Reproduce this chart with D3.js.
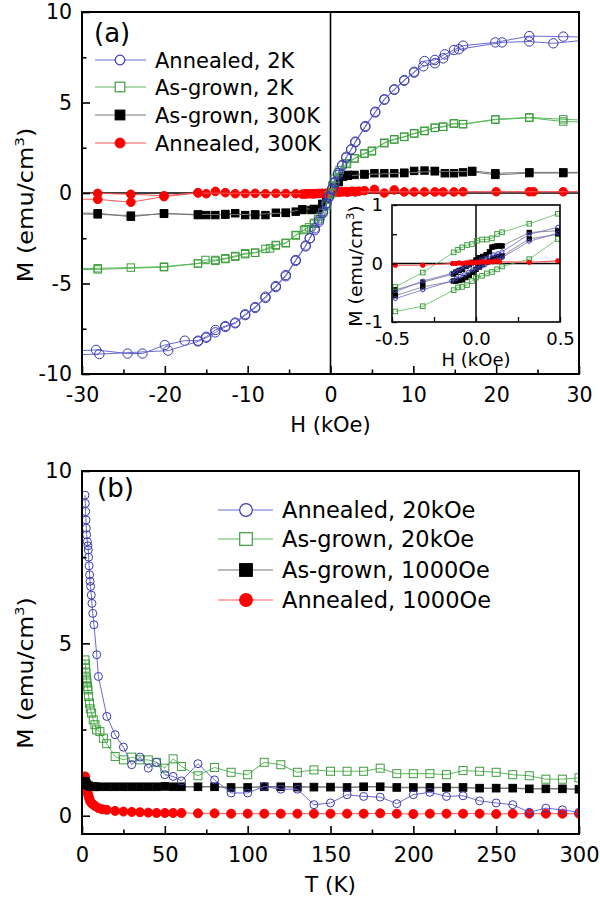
<!DOCTYPE html>
<html><head><meta charset="utf-8">
<script src="https://cdn.jsdelivr.net/npm/d3@7"></script>
<style>body{margin:0;background:#fff}svg{display:block}text{font-family:"DejaVu Sans",Verdana,sans-serif;fill:#000}</style>
</head><body><svg id="c" width="600" height="899"></svg>
<script>
// ---------------- Panel (a): M vs H ----------------
const ann2K_downH = [32, 28.1, 24.0, 19.9, 16.0, 14.9, 13.8, 12.6, 11.35, 10.1, 8.9, 7.7, 6.5, 5.4, 4.2, 3.0, 2.5, 1.9, 1.4, 0.9, 0.5, 0.2, -0.2, -0.5, -0.9, -1.4, -1.9, -2.5, -3.0, -4.2, -5.4, -6.6, -7.85, -9.1, -10.3, -11.5, -12.7, -13.9, -15.0, -16.0, -17.6, -20.0, -22.7, -24.5, -28.3, -32];
const ann2K_downM = [8.6, 8.64, 8.67, 8.32, 8.14, 7.9, 7.66, 7.35, 7.29, 6.65, 6.24, 5.73, 5.18, 4.49, 3.70, 2.84, 2.41, 2.0, 1.55, 1.09, 0.6, 0.25, -0.2, -0.55, -1.0, -1.5, -1.95, -2.5, -2.9, -3.7, -4.53, -5.14, -5.73, -6.3, -6.7, -7.16, -7.35, -7.57, -7.94, -8.16, -8.16, -8.4, -8.87, -8.87, -8.67, -8.75];
const ann2K_upH = [-32, -27.9, -19.6, -16.0, -15.0, -13.9, -12.7, -11.5, -10.3, -9.1, -7.85, -6.6, -5.4, -4.2, -3.0, -2.5, -1.9, -1.4, -0.9, -0.5, -0.2, 0.2, 0.5, 0.9, 1.4, 1.9, 2.5, 3.0, 4.2, 5.4, 6.5, 7.7, 8.9, 10.1, 11.2, 12.6, 13.6, 15.5, 20.7, 24.0, 26.9, 32];
const ann2K_upM = [-8.95, -8.9, -8.71, -8.2, -8.0, -7.7, -7.4, -7.2, -6.75, -6.35, -5.8, -5.2, -4.6, -3.75, -2.95, -2.5, -2.05, -1.6, -1.1, -0.6, -0.25, 0.2, 0.55, 1.0, 1.5, 1.95, 2.4, 2.8, 3.65, 4.45, 5.15, 5.7, 6.2, 6.7, 7.0, 7.17, 7.44, 7.94, 8.32, 8.37, 8.27, 8.5];

const asg2K_downH = [32, 28.1, 24.0, 19.9, 16.0, 14.9, 13.6, 12.6, 11.35, 10.1, 8.9, 7.7, 6.5, 5.0, 4.1, 2.9, 1.9, 1.1, 0.5, 0.2, -0.2, -0.5, -1.0, -1.5, -2.0, -2.6, -3.2, -4.2, -5.4, -6.6, -7.85, -9.1, -10.3, -11.5, -12.7, -13.9, -15.1, -16.0, -20.1, -24.1, -28.1, -32];
const asg2K_downM = [4.0, 4.07, 4.18, 4.07, 3.81, 3.85, 3.66, 3.61, 3.44, 3.3, 3.11, 2.97, 2.78, 2.34, 2.19, 1.92, 1.64, 1.27, 0.8, 0.4, -0.1, -0.6, -1.1, -1.45, -1.7, -1.9, -2.05, -2.32, -2.78, -2.87, -3.09, -3.3, -3.33, -3.48, -3.61, -3.7, -3.7, -3.89, -4.07, -4.12, -4.16, -4.2];
const asg2K_upH = [-32, -28.1, -20.1, -16.0, -13.9, -12.7, -11.5, -10.3, -9.1, -7.3, -6.6, -5.4, -4.2, -3.0, -2.0, -1.2, -0.5, 0.2, 0.5, 1.0, 2.0, 2.9, 4.1, 5.0, 6.5, 7.7, 8.9, 10.1, 11.35, 12.6, 13.6, 14.9, 16.0, 19.9, 24.0, 28.1, 32];
const asg2K_upM = [-4.25, -4.22, -4.1, -3.9, -3.75, -3.65, -3.52, -3.38, -3.3, -3.06, -2.9, -2.75, -2.35, -2.0, -1.65, -1.3, -0.7, 0.0, 0.6, 1.15, 1.6, 1.9, 2.17, 2.3, 2.75, 2.95, 3.1, 3.28, 3.42, 3.6, 3.66, 3.83, 3.8, 4.05, 4.15, 3.95, 3.9];

const asg300_downH = [32, 28.1, 24.0, 19.9, 17.1, 16.0, 14.9, 13.8, 12.6, 11.35, 10.1, 8.9, 7.7, 6.5, 5.3, 4.1, 2.9, 2.1, 1.5, 1.0, 0.5, 0, -0.5, -1.0, -1.5, -2.3, -3.4, -4.2, -5.4, -6.6, -7.85, -9.1, -10.3, -11.5, -12.7, -13.9, -15.0, -16.0, -20.1, -24.1, -28.1, -32];
const asg300_downM = [1.14, 1.14, 1.14, 1.09, 1.22, 1.14, 1.09, 1.09, 1.22, 1.24, 1.22, 1.12, 1.09, 1.09, 1.09, 1.05, 1.0, 1.0, 0.9, 0.6, 0.3, 0.0, -0.35, -0.75, -0.92, -0.94, -0.94, -1.03, -1.09, -1.09, -1.22, -1.22, -1.22, -1.12, -1.16, -1.22, -1.22, -1.22, -1.12, -1.31, -1.12, -1.1];
const asg300_upH = [-32, -28.1, -24.1, -20.1, -16.0, -12.7, -9.1, -5.4, -3.4, -2.0, -1.0, 0, 1.0, 1.5, 2.1, 4.1, 8.9, 12.6, 17.1, 19.9, 24.0, 28.1, 32];
const asg300_upM = [-1.15, -1.18, -1.25, -1.15, -1.18, -1.2, -1.18, -1.1, -0.9, -0.88, -0.6, 0.0, 0.7, 0.9, 0.95, 1.02, 1.1, 1.2, 1.18, 1.0, 1.1, 1.1, 1.12];

const ann300_downH = [32, 28.1, 24.5, 24.0, 20.0, 16.0, 14.9, 13.6, 12.6, 11.35, 10.1, 8.9, 7.7, 6.5, 5.3, 4.1, 3.4, 3.0, 2.6, 2.2, 1.8, 1.4, 1.0, 0.6, 0.2, -0.2, -0.6, -1.0, -1.4, -1.8, -2.2, -2.6, -3.0, -3.4, -4.2, -5.4, -6.6, -7.85, -9.1, -10.3, -11.5, -12.7, -13.9, -15.0, -16.0, -20.1, -24.1, -28.1, -32];
const ann300_downM = [0.07, 0.07, 0.07, 0.07, 0.07, 0.07, 0.06, 0.06, 0.06, 0.06, 0.06, 0.06, 0.17, 0.0, 0.2, 0.13, 0.1, 0.08, 0.1, 0.07, 0.08, 0.06, 0.06, 0.04, 0.02, 0.0, -0.02, -0.03, -0.02, -0.04, -0.05, -0.04, -0.05, -0.06, -0.04, -0.03, -0.02, -0.04, -0.02, -0.03, -0.04, 0.02, 0.09, -0.04, 0.02, -0.15, -0.07, -0.02, 0.0];
const ann300_upH = [-32, -28.1, -24.1, -20.1, -16.0, -3.0, -2.0, -1.0, 0.0, 1.0, 2.0, 3.0, 32];
const ann300_upM = [-0.33, -0.35, -0.51, -0.2, 0.0, -0.05, -0.04, -0.02, 0.01, 0.04, 0.05, 0.06, 0.07];

const legendA = ["Annealed, 2K", "As-grown, 2K", "As-grown, 300K", "Annealed, 300K"];
const xTicksA = [-30, -20, -10, 0, 10, 20, 30];
const xMinorA = [-25, -15, -5, 5, 15, 25];
const yTicksA = [-10, -5, 0, 5, 10];
const yMinorA = [-7.5, -2.5, 2.5, 7.5];

// ---------------- Inset (low-field loops) ----------------
const insGreen_upH = [0.487, 0.317, 0.155, 0.125, 0.095, 0.065, 0.036, 0.006, -0.024, -0.053, -0.083, -0.107, -0.133, -0.317, -0.48];
const insGreen_upM = [0.85, 0.68, 0.534, 0.505, 0.43, 0.41, 0.41, 0.39, 0.333, 0.316, 0.276, 0.235, 0.19, -0.155, -0.40];
const insGreen_loH = [-0.48, -0.317, -0.133, -0.107, -0.083, -0.053, -0.024, 0.0, 0.036, 0.065, 0.095, 0.125, 0.155, 0.317, 0.487];
const insGreen_loM = [-0.82, -0.73, -0.455, -0.41, -0.40, -0.37, -0.30, -0.24, -0.21, -0.17, -0.145, -0.10, -0.05, 0.074, 0.42];
const insBlue_upH = [0.487, 0.317, 0.155, 0.13, 0.105, 0.08, 0.055, 0.03, 0.005, -0.02, -0.045, -0.07, -0.095, -0.12, -0.145, -0.317, -0.48];
const insBlue_upM = [0.62, 0.5, 0.2, 0.17, 0.15, 0.12, 0.09, 0.06, 0.03, 0.0, -0.03, -0.06, -0.1, -0.13, -0.17, -0.3, -0.48];
const insBlue_loH = [-0.48, -0.317, -0.145, -0.12, -0.095, -0.07, -0.045, -0.02, 0.005, 0.03, 0.055, 0.08, 0.105, 0.13, 0.155, 0.317, 0.487];
const insBlue_loM = [-0.6, -0.45, -0.3, -0.26, -0.22, -0.19, -0.15, -0.11, -0.08, -0.05, -0.02, 0.02, 0.05, 0.08, 0.1, 0.38, 0.52];
const insBlack_upH = [0.487, 0.317, 0.155, 0.14, 0.125, 0.11, 0.095, 0.08, 0.06, 0.04, 0.02, 0.0, -0.02, -0.04, -0.06, -0.08, -0.1, -0.12, -0.133, -0.317, -0.48];
const insBlack_upM = [0.56, 0.53, 0.3, 0.3, 0.3, 0.29, 0.28, 0.2, 0.15, 0.12, 0.1, 0.06, 0.02, -0.02, -0.05, -0.1, -0.12, -0.15, -0.18, -0.32, -0.45];
const insBlack_loH = [-0.48, -0.317, -0.133, -0.12, -0.1, -0.08, -0.06, -0.04, -0.02, 0.0, 0.02, 0.04, 0.06, 0.08, 0.1, 0.12, 0.14, 0.155, 0.317, 0.487];
const insBlack_loM = [-0.55, -0.4, -0.3, -0.3, -0.29, -0.28, -0.24, -0.2, -0.15, -0.1, -0.06, -0.02, 0.02, 0.05, 0.08, 0.1, 0.12, 0.13, 0.42, 0.5];
const insRedH = [-0.48, -0.317, -0.14, -0.12, -0.1, -0.08, -0.06, -0.04, -0.02, 0.0, 0.02, 0.04, 0.06, 0.08, 0.1, 0.12, 0.14, 0.317, 0.487];
const insRedM = [-0.03, -0.03, 0.0, 0.0, 0.01, 0.0, 0.01, 0.02, 0.01, 0.02, 0.02, 0.03, 0.02, 0.03, 0.03, 0.04, 0.03, 0.02, 0.045];
const xTicksI = [-0.5, 0, 0.5];
const xMinorI = [-0.25, 0.25];
const yTicksI = [-1, 0, 1];
const yMinorI = [-0.5, 0.5];

// ---------------- Panel (b): M vs T ----------------
const ann20k_T = [1.8, 2.0, 2.2, 2.4, 2.6, 2.8, 3.2, 3.6, 3.8, 4.0, 4.3, 4.6, 4.9, 5.2, 5.6, 6.0, 6.5, 7.2, 8.9, 9.9, 15, 20, 25, 30, 35, 40, 45, 50, 55, 60, 70, 80, 90, 100, 110, 120, 130, 140, 150, 160, 170, 180, 190, 200, 210, 220, 230, 240, 250, 260, 270, 280, 290, 300];
const ann20k_M = [9.3, 9.06, 8.82, 8.58, 8.34, 8.15, 7.95, 7.83, 7.71, 7.5, 7.25, 6.99, 6.8, 6.65, 6.4, 6.16, 5.87, 5.54, 4.67, 4.04, 2.88, 2.35, 1.99, 1.48, 1.70, 1.38, 1.55, 1.19, 1.14, 1.01, 1.51, 1.04, 0.66, 0.66, 0.85, 0.77, 0.77, 0.32, 0.37, 0.61, 0.56, 0.54, 0.35, 0.61, 0.68, 0.56, 0.58, 0.43, 0.37, 0.32, 0.1, 0.22, 0.17, 0.1];
const asg20k_T = [1.8, 2.0, 2.2, 2.4, 2.6, 2.8, 3.0, 3.3, 3.6, 4.0, 4.5, 5.0, 5.8, 6.8, 7.8, 8.8, 10.8, 12.9, 14.9, 20, 25, 30, 35, 40, 45, 50, 55, 60, 70, 80, 90, 100, 110, 120, 130, 140, 150, 160, 170, 180, 190, 200, 210, 220, 230, 240, 250, 260, 270, 280, 290, 300];
const asg20k_M = [4.52, 4.40, 4.28, 4.14, 4.0, 3.94, 3.85, 3.75, 3.65, 3.46, 3.27, 3.1, 2.98, 2.78, 2.64, 2.49, 2.44, 2.25, 2.09, 1.72, 1.62, 1.70, 1.62, 1.62, 1.55, 1.38, 1.65, 1.43, 1.16, 1.40, 1.26, 1.19, 1.55, 1.48, 1.26, 1.33, 1.29, 1.29, 1.29, 1.38, 1.22, 1.22, 1.22, 1.19, 1.31, 1.29, 1.26, 1.19, 1.16, 1.06, 1.06, 1.1];
const asg100_T = [1.8, 2.0, 2.5, 3.0, 4.0, 5.0, 6.0, 7.0, 8.0, 10, 15, 20, 25, 30, 35, 40, 45, 50, 55, 60, 70, 80, 90, 100, 110, 120, 130, 140, 150, 160, 170, 180, 190, 200, 210, 220, 230, 240, 250, 260, 270, 280, 290, 300];
const asg100_M = [1.0, 0.97, 0.93, 0.9, 0.87, 0.85, 0.85, 0.84, 0.84, 0.84, 0.84, 0.84, 0.84, 0.84, 0.84, 0.84, 0.84, 0.85, 0.84, 0.84, 0.84, 0.84, 0.82, 0.82, 0.84, 0.84, 0.83, 0.83, 0.83, 0.82, 0.84, 0.84, 0.82, 0.82, 0.82, 0.82, 0.82, 0.8, 0.8, 0.8, 0.78, 0.78, 0.78, 0.77];
const ann100_T = [1.8, 2.0, 2.3, 2.6, 3.0, 3.5, 4.0, 4.5, 5.0, 6.0, 7.0, 8.0, 10, 12, 15, 20, 25, 30, 35, 40, 45, 50, 55, 60, 70, 80, 90, 100, 110, 120, 130, 140, 150, 160, 170, 180, 190, 200, 210, 220, 230, 240, 250, 260, 270, 280, 290, 300];
const ann100_M = [1.14, 1.05, 0.94, 0.85, 0.75, 0.65, 0.56, 0.48, 0.41, 0.35, 0.32, 0.28, 0.22, 0.19, 0.17, 0.14, 0.12, 0.11, 0.1, 0.09, 0.08, 0.08, 0.08, 0.08, 0.07, 0.07, 0.06, 0.06, 0.06, 0.06, 0.06, 0.06, 0.06, 0.06, 0.06, 0.07, 0.06, 0.05, 0.06, 0.06, 0.06, 0.06, 0.05, 0.06, 0.06, 0.06, 0.06, 0.06];
const legendB = ["Annealed, 20kOe", "As-grown, 20kOe", "As-grown, 1000Oe", "Annealed, 1000Oe"];
const xTicksB = [0, 50, 100, 150, 200, 250, 300];
const xMinorB = [25, 75, 125, 175, 225, 275];
const yTicksB = [0, 5, 10];
const yMinorB = [2.5, 7.5];

// ---------------- drawing ----------------
const svg = d3.select('#c');
const FONT = '"DejaVu Sans",Verdana,sans-serif';
const ST = {
  blue:  {shape:'circle', color:'#3a3ab0', line:'#6a6ad0', filled:false},
  green: {shape:'square', color:'#3c9c3c', line:'#5cb85c', filled:false},
  black: {shape:'square', color:'#000',    line:'#777',    filled:true},
  red:   {shape:'circle', color:'#ff0000', line:'#ff5555', filled:true}
};

function drawSeries(g, sx, sy, xs, ys, st, size, lw) {
  const pts = xs.map((x, i) => [sx(x), sy(ys[i])]);
  g.append('path').attr('d', d3.line()(pts)).attr('fill', 'none')
    .attr('stroke', st.line).attr('stroke-width', lw);
  const mg = g.append('g');
  if (st.shape === 'circle') {
    mg.selectAll('circle').data(pts).join('circle')
      .attr('cx', d => d[0]).attr('cy', d => d[1]).attr('r', size)
      .attr('fill', st.filled ? st.color : 'none').attr('stroke', st.color).attr('stroke-width', 1);
  } else {
    mg.selectAll('rect').data(pts).join('rect')
      .attr('x', d => d[0] - size).attr('y', d => d[1] - size)
      .attr('width', 2 * size).attr('height', 2 * size)
      .attr('fill', st.filled ? st.color : 'none').attr('stroke', st.color).attr('stroke-width', 1);
  }
}

function fmtNum(d) { return String(d); }

function axes(g, sx, sy, box, o) {
  const bottom = g.append('g').attr('transform', `translate(0,${box.y1})`);
  bottom.call(d3.axisBottom(sx).tickValues(o.xt).tickSize(-o.major).tickPadding(o.padX).tickFormat(o.fx));
  bottom.append('g').call(d3.axisBottom(sx).tickValues(o.xm).tickSize(-o.minor).tickFormat(''));
  const left = g.append('g').attr('transform', `translate(${box.x0},0)`);
  left.call(d3.axisLeft(sy).tickValues(o.yt).tickSize(-o.major).tickPadding(o.padY).tickFormat(o.fy));
  left.append('g').call(d3.axisLeft(sy).tickValues(o.ym).tickSize(-o.minor).tickFormat(''));
  [bottom, left].forEach(a => {
    a.selectAll('.domain').remove();
    a.attr('font-family', FONT).attr('font-size', o.fs);
    a.selectAll('line').attr('stroke', '#000').attr('stroke-width', o.tw);
    a.selectAll('text').attr('fill', '#000');
  });
  g.append('rect').attr('x', box.x0).attr('y', box.y0)
    .attr('width', box.x1 - box.x0).attr('height', box.y1 - box.y0)
    .attr('fill', 'none').attr('stroke', '#000').attr('stroke-width', o.fw);
}

function yLabel(g, x, y, fs, supfs, stretch) {
  const t = g.append('text').attr('transform', `translate(${x},${y}) rotate(-90) scale(${stretch},1)`)
    .attr('text-anchor', 'middle').attr('font-size', fs).attr('font-family', FONT);
  t.append('tspan').text('M (emu/cm');
  t.append('tspan').attr('dy', -fs * 0.45).attr('font-size', supfs).text('3');
  t.append('tspan').attr('dy', fs * 0.45).text(')');
}

function legend(g, items, styles, x0, x1, xm, xt, ys, size, fs) {
  items.forEach((lab, i) => {
    const st = styles[i], y = ys[i];
    g.append('line').attr('x1', x0).attr('x2', x1).attr('y1', y).attr('y2', y)
      .attr('stroke', st.line).attr('stroke-width', 1.2);
    if (st.shape === 'circle') {
      g.append('circle').attr('cx', xm).attr('cy', y).attr('r', size)
        .attr('fill', st.filled ? st.color : '#fff').attr('stroke', st.color).attr('stroke-width', 1.2);
    } else {
      g.append('rect').attr('x', xm - size).attr('y', y - size).attr('width', 2 * size).attr('height', 2 * size)
        .attr('fill', st.filled ? st.color : '#fff').attr('stroke', st.color).attr('stroke-width', 1.2);
    }
    g.append('text').attr('x', xt).attr('y', y).attr('dy', '0.36em')
      .attr('font-size', fs).attr('font-family', FONT).text(lab);
  });
}

// ===== Panel (a) =====
const boxA = {x0: 82, x1: 579, y0: 12, y1: 374};
const xA = d3.scaleLinear([-30, 30], [boxA.x0, boxA.x1]);
const yA = d3.scaleLinear([-10, 10], [boxA.y1, boxA.y0]);
const gA = svg.append('g');
svg.append('defs').append('clipPath').attr('id', 'clipA').append('rect')
  .attr('x', boxA.x0).attr('y', boxA.y0).attr('width', boxA.x1 - boxA.x0).attr('height', boxA.y1 - boxA.y0);
const dA = gA.append('g').attr('clip-path', 'url(#clipA)');
dA.append('line').attr('x1', xA(0)).attr('x2', xA(0)).attr('y1', boxA.y0).attr('y2', boxA.y1).attr('stroke', '#000').attr('stroke-width', 1.6);
dA.append('line').attr('x1', boxA.x0).attr('x2', boxA.x1).attr('y1', yA(0)).attr('y2', yA(0)).attr('stroke', '#000').attr('stroke-width', 1.6);
drawSeries(dA, xA, yA, asg300_downH, asg300_downM, ST.black, 3.7, 1);
drawSeries(dA, xA, yA, asg300_upH, asg300_upM, ST.black, 3.7, 1);
drawSeries(dA, xA, yA, ann300_downH, ann300_downM, ST.red, 4.3, 1);
drawSeries(dA, xA, yA, ann300_upH, ann300_upM, ST.red, 4.3, 1);
drawSeries(dA, xA, yA, asg2K_downH, asg2K_downM, ST.green, 3.7, 1);
drawSeries(dA, xA, yA, asg2K_upH, asg2K_upM, ST.green, 3.7, 1);
drawSeries(dA, xA, yA, ann2K_downH, ann2K_downM, ST.blue, 4.7, 1);
drawSeries(dA, xA, yA, ann2K_upH, ann2K_upM, ST.blue, 4.7, 1);
axes(gA, xA, yA, boxA, {xt: xTicksA, xm: xMinorA, yt: yTicksA, ym: yMinorA, major: 8, minor: 4.5,
  padX: 13, padY: 10, fx: fmtNum, fy: fmtNum, fs: 20.5, tw: 1.6, fw: 2});
gA.append('text').attr('x', xA(0)).attr('y', 432).attr('text-anchor', 'middle')
  .attr('font-size', 21).attr('font-family', FONT).text('H (kOe)');
yLabel(gA, 33, 205, 20.5, 13, 1.17);
gA.append('text').attr('x', 94).attr('y', 42).attr('font-size', 26).attr('font-family', FONT).text('(a)');
legend(gA, legendA, [ST.blue, ST.green, ST.black, ST.red], 95, 146, 120, 155, [60, 87, 115, 143], 4.8, 21);

// ===== Inset =====
const boxI = {x0: 392, x1: 560, y0: 205, y1: 322};
const xI = d3.scaleLinear([-0.5, 0.5], [boxI.x0, boxI.x1]);
const yI = d3.scaleLinear([-1, 1], [boxI.y1, boxI.y0]);
const gI = svg.append('g');
gI.append('rect').attr('x', boxI.x0).attr('y', boxI.y0).attr('width', boxI.x1 - boxI.x0)
  .attr('height', boxI.y1 - boxI.y0).attr('fill', '#fff');
svg.select('defs').append('clipPath').attr('id', 'clipI').append('rect')
  .attr('x', boxI.x0).attr('y', boxI.y0).attr('width', boxI.x1 - boxI.x0).attr('height', boxI.y1 - boxI.y0);
const dI = gI.append('g').attr('clip-path', 'url(#clipI)');
dI.append('line').attr('x1', xI(0)).attr('x2', xI(0)).attr('y1', boxI.y0).attr('y2', boxI.y1).attr('stroke', '#000').attr('stroke-width', 1.5);
dI.append('line').attr('x1', boxI.x0).attr('x2', boxI.x1).attr('y1', yI(0)).attr('y2', yI(0)).attr('stroke', '#000').attr('stroke-width', 1.5);
drawSeries(dI, xI, yI, insBlack_upH, insBlack_upM, ST.black, 2.2, 0.8);
drawSeries(dI, xI, yI, insBlack_loH, insBlack_loM, ST.black, 2.2, 0.8);
drawSeries(dI, xI, yI, insBlue_upH, insBlue_upM, ST.blue, 2, 0.8);
drawSeries(dI, xI, yI, insBlue_loH, insBlue_loM, ST.blue, 2, 0.8);
drawSeries(dI, xI, yI, insGreen_upH, insGreen_upM, ST.green, 2.3, 0.8);
drawSeries(dI, xI, yI, insGreen_loH, insGreen_loM, ST.green, 2.3, 0.8);
drawSeries(dI, xI, yI, insRedH, insRedM, ST.red, 2.2, 1.2);
const fI = d => (d === 0 ? '0.0' : d3.format('.1f')(d).replace('\u2212', '-'));
axes(gI, xI, yI, boxI, {xt: xTicksI, xm: xMinorI, yt: yTicksI, ym: yMinorI, major: 5, minor: 5,
  padX: 10, padY: 9, fx: fI, fy: fmtNum, fs: 18, tw: 1.3, fw: 1.6});
gI.append('text').attr('x', xI(0)).attr('y', 366).attr('text-anchor', 'middle')
  .attr('font-size', 18).attr('font-family', FONT).text('H (kOe)');
yLabel(gI, 362, 266, 18, 11, 1.05);

// ===== Panel (b) =====
const boxB = {x0: 82, x1: 579, y0: 471, y1: 834};
const xB = d3.scaleLinear([0, 300], [boxB.x0, boxB.x1]);
const yB = d3.scaleLinear([-0.53, 10], [boxB.y1, boxB.y0]);
const gB = svg.append('g');
svg.select('defs').append('clipPath').attr('id', 'clipB').append('rect')
  .attr('x', boxB.x0).attr('y', boxB.y0).attr('width', boxB.x1 - boxB.x0).attr('height', boxB.y1 - boxB.y0);
const dB = gB.append('g').attr('clip-path', 'url(#clipB)');
drawSeries(dB, xB, yB, ann100_T, ann100_M, ST.red, 4.5, 1);
drawSeries(dB, xB, yB, asg100_T, asg100_M, ST.black, 3.8, 1.5);
drawSeries(dB, xB, yB, asg20k_T, asg20k_M, ST.green, 4, 1);
drawSeries(dB, xB, yB, ann20k_T, ann20k_M, ST.blue, 4, 1);
axes(gB, xB, yB, boxB, {xt: xTicksB, xm: xMinorB, yt: yTicksB, ym: yMinorB, major: 8, minor: 4.5,
  padX: 13, padY: 10, fx: fmtNum, fy: fmtNum, fs: 21, tw: 1.6, fw: 2});
gB.append('text').attr('x', xB(150)).attr('y', 892).attr('text-anchor', 'middle')
  .attr('font-size', 21.5).attr('font-family', FONT).text('T (K)');
yLabel(gB, 33, 673, 21, 13, 1.12);
gB.append('text').attr('x', 97).attr('y', 497).attr('font-size', 26).attr('font-family', FONT).text('(b)');
legend(gB, legendB, [ST.blue, ST.green, ST.black, ST.red], 218, 273, 246, 282, [510, 539, 570, 600], 6.3, 22.5);
</script></body></html>
